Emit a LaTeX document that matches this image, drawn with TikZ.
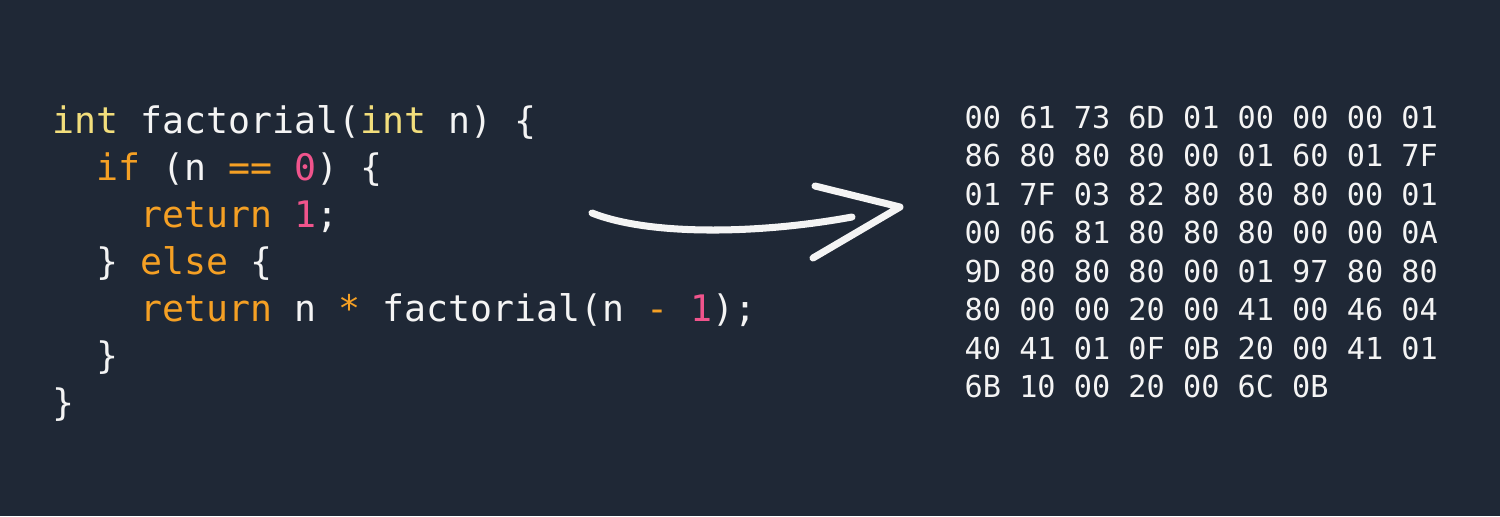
\documentclass[tikz,border=0pt]{standalone}
\usepackage{fontspec}
\setmonofont{DejaVu Sans Mono}
\usetikzlibrary{positioning}
\definecolor{bgdark}{HTML}{1F2836}
\definecolor{codewhite}{HTML}{F4F4F4}
\definecolor{typeyellow}{HTML}{F2DE7C}
\definecolor{kworange}{HTML}{F5A024}
\definecolor{numpink}{HTML}{F0548C}
\tikzset{
  codeline/.style = {anchor=base west, inner sep=0pt, text=codewhite, font=\ttfamily\fontsize{10.4}{13}\selectfont},
  hexrow/.style = {anchor=base west, inner sep=0pt, text=codewhite, font=\ttfamily\fontsize{8.6}{11}\selectfont},
  stroke/.style = {draw=codewhite, line width=2pt, line cap=round, line join=round}
}
\newcommand{\ty}[1]{\textcolor{typeyellow}{#1}}
\newcommand{\kw}[1]{\textcolor{kworange}{#1}}
\newcommand{\nm}[1]{\textcolor{numpink}{#1}}
\newcommand{\pad}[1]{\hphantom{#1}}

\begin{document}
\begin{tikzpicture}
  % Hintergrund
  \fill[bgdark] (0,0) rectangle (15,-5.16);
  \useasboundingbox (0,0) rectangle (15,-5.16);

  % Quelltext
  \node[codeline] (code1) at (0.52,-1.33) {\ty{int} factorial(\ty{int} n) \{};
  \node[codeline] (code2) at (0.52,-1.80) {\pad{xx}\kw{if} (n \kw{==} \nm{0}) \{};
  \node[codeline] (code3) at (0.52,-2.27) {\pad{xxxx}\kw{return} \nm{1};};
  \node[codeline] (code4) at (0.52,-2.74) {\pad{xx}\} \kw{else} \{};
  \node[codeline] (code5) at (0.52,-3.21) {\pad{xxxx}\kw{return} n \kw{*} factorial(n \kw{-} \nm{1});};
  \node[codeline] (code6) at (0.52,-3.68) {\pad{xx}\}};
  \node[codeline] (code7) at (0.52,-4.15) {\}};

  % Bytes
  \foreach \bytes [count=\i] in {
      {00 61 73 6D 01 00 00 00 01},
      {86 80 80 80 00 01 60 01 7F},
      {01 7F 03 82 80 80 80 00 01},
      {00 06 81 80 80 80 00 00 0A},
      {9D 80 80 80 00 01 97 80 80},
      {80 00 00 20 00 41 00 46 04},
      {40 41 01 0F 0B 20 00 41 01},
      {6B 10 00 20 00 6C 0B}}
    \node[hexrow] (hex\i) at (9.64,{-1.28-0.385*(\i-1)}) {\bytes};

  % Pfeil
  \coordinate (tail) at (5.92,-2.13);
  \coordinate (head) at (8.52,-2.17);
  \coordinate (tip) at (9.00,-2.07);
  \coordinate (barbtop) at (8.15,-1.86);
  \coordinate (barbbot) at (8.13,-2.58);
  \draw[stroke] (tail) .. controls (6.5,-2.36) and (7.6,-2.34) .. (head);
  \draw[stroke] (barbtop) -- (tip) -- (barbbot);
\end{tikzpicture}
\end{document}
